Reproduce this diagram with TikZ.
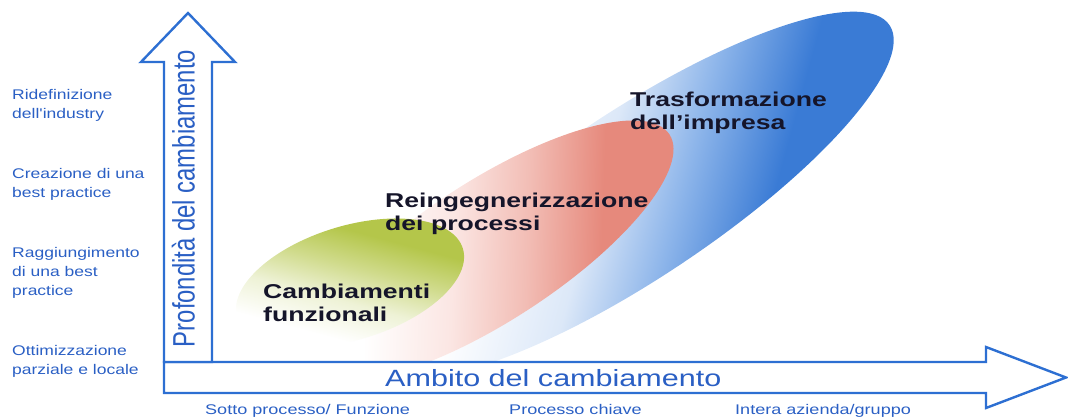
\documentclass[tikz,border=0pt]{standalone}
\usepackage{fontspec}
\setmainfont{Liberation Sans}
\newfontfamily\lblfont[FakeStretch=1.25]{Liberation Sans}
\newfontfamily\botfont[FakeStretch=1.29]{Liberation Sans}
\newfontfamily\bigbold[FakeStretch=1.33]{Liberation Sans Bold}
\newfontfamily\axisfont[FakeStretch=1.3]{Liberation Sans}
\newfontfamily\vertfont[FakeStretch=0.77]{Liberation Sans}
\definecolor{axisblue}{HTML}{2D6FD2}
\definecolor{txtblue}{HTML}{2A5FC4}
\definecolor{darktxt}{HTML}{15152A}
\definecolor{blueL}{HTML}{DCE8F8}
\definecolor{blueM}{HTML}{8DB5EA}
\definecolor{blueD}{HTML}{3A7BD5}
\definecolor{redL}{HTML}{FBE6E3}
\definecolor{redM}{HTML}{F2BDB5}
\definecolor{redD}{HTML}{E6897C}
\definecolor{greenL}{HTML}{EEF2D6}
\definecolor{greenM}{HTML}{D0DB8C}
\definecolor{greenD}{HTML}{B4C64A}
\pgfdeclarehorizontalshading{blueshade}{100bp}{color(0bp)=(white); color(30bp)=(white); color(45bp)=(blueL); color(56bp)=(blueM); color(68bp)=(blueD); color(100bp)=(blueD)}
\pgfdeclarehorizontalshading{redshade}{100bp}{color(0bp)=(white); color(30bp)=(white); color(44bp)=(redL); color(56bp)=(redM); color(68bp)=(redD); color(100bp)=(redD)}
\pgfdeclarehorizontalshading{greenshade}{100bp}{color(0bp)=(white); color(32bp)=(white); color(44bp)=(greenL); color(55bp)=(greenM); color(66bp)=(greenD); color(100bp)=(greenD)}
\tikzset{
  axisarrow/.style={draw=axisblue, line width=2.4pt, fill=white, line join=miter},
  sidelbl/.style={anchor=north west, inner sep=0pt, align=left, text=txtblue, font=\lblfont\fontsize{14}{19}\selectfont},
  botlbl/.style={anchor=base west, inner sep=0pt, text=txtblue, font=\botfont\fontsize{14}{17}\selectfont},
  biglbl/.style={anchor=north west, inner sep=0pt, align=left, text=darktxt, font=\bigbold\fontsize{20}{23.5}\selectfont},
}
\begin{document}
\begin{tikzpicture}[x=1pt,y=-1pt]
\useasboundingbox (0,0) rectangle (1068,418);
% ellipses
\begin{scope}[transform canvas={shift={(635,195)}, rotate=33.7}]
  \shade[shading=blueshade, shading angle=-49] (0,0) ellipse [x radius=306, y radius=83];
\end{scope}
\begin{scope}[transform canvas={shift={(490,251)}, rotate=33}]
  \shade[shading=redshade, shading angle=-35] (0,0) ellipse [x radius=214, y radius=70];
\end{scope}
\begin{scope}[transform canvas={shift={(350,283)}, rotate=17}]
  \shade[shading=greenshade, shading angle=58] (0,0) ellipse [x radius=118, y radius=57];
\end{scope}
% axes
\draw[axisarrow] (164,362) -- (986,362) -- (986,347) -- (1066,377.5) -- (986,408) -- (986,393) -- (164,393) -- cycle;
\draw[axisarrow] (164,362) -- (164,62) -- (141,62) -- (188,13) -- (235,62) -- (212,62) -- (212,362) -- cycle;
% axis titles
\node[rotate=90, anchor=base, inner sep=0pt, text=txtblue, font=\vertfont\fontsize{31}{31}\selectfont] (vlab) at (194.5,198.5) {Profondità del cambiamento};
\node[anchor=base west, inner sep=0pt, text=txtblue, font=\axisfont\fontsize{23.5}{23.5}\selectfont] (hlab) at (385,386) {Ambito del cambiamento};
% side labels
\node[sidelbl] (l1) at (12,88.8) {Ridefinizione\\dell'industry};
\node[sidelbl] (l2) at (12,167.8) {Creazione di una\\best practice};
\node[sidelbl] (l3) at (12,246.8) {Raggiungimento\\di una best\\practice};
\node[sidelbl] (l4) at (12,344.8) {Ottimizzazione\\parziale e locale};
% bottom labels
\node[botlbl] (b1) at (205,414) {Sotto processo/ Funzione};
\node[botlbl] (b2) at (509,414) {Processo chiave};
\node[botlbl] (b3) at (735,414) {Intera azienda/gruppo};
% region labels
\node[biglbl] (t1) at (630,91.4) {Trasformazione\\dell’impresa};
\node[biglbl] (t2) at (385,192.4) {Reingegnerizzazione\\dei processi};
\node[biglbl] (t3) at (263,283.4) {Cambiamenti\\funzionali};
\end{tikzpicture}
\end{document}
